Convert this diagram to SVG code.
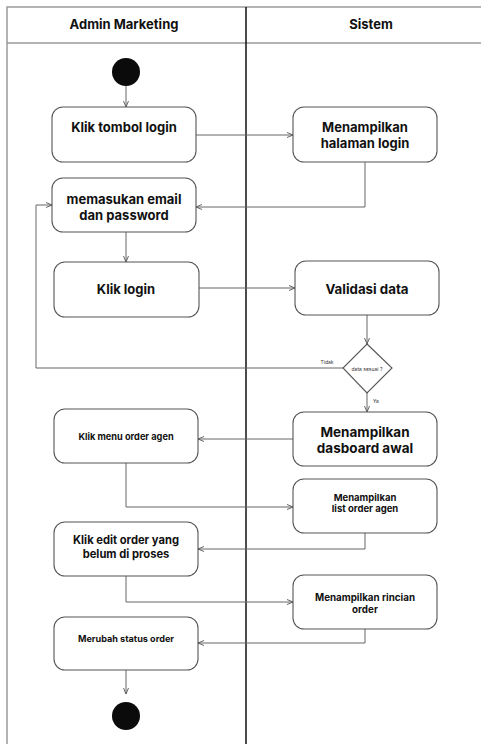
<svg xmlns="http://www.w3.org/2000/svg" width="481" height="744" viewBox="0 0 481 744">
  <defs>
    <marker id="arrow" viewBox="0 0 6 6" refX="6" refY="3" markerWidth="6" markerHeight="6" orient="auto" markerUnits="userSpaceOnUse">
      <path d="M0,0.5 L6,3 L0,5.5" fill="none" stroke="#555" stroke-width="0.9"/>
    </marker>
    <style>
      .frame { fill: none; stroke: #9a9a9a; stroke-width: 1.5; }
      .divider { stroke: #111; stroke-width: 1.5; }
      .box { fill: #fff; stroke: #555; stroke-width: 1.1; }
      .node-dot { fill: #0b0b0b; }
      .edge { fill: none; stroke: #666; stroke-width: 1; marker-end: url(#arrow); }
      text { font-family: Inter, "Liberation Sans", Arial, sans-serif; fill: #111; text-anchor: middle; dominant-baseline: central; }
      .head { font-size: 13px; font-weight: 700; }
      .lbl { font-weight: 700; }
      .tiny { font-size: 5px; fill: #333; }
    </style>
  </defs>

  <!-- swimlane frame -->
  <g id="lanes">
    <path class="frame" d="M7,744 V7 H481 M7,43 H481"/>
    <line class="divider" x1="246" y1="7" x2="246" y2="744"/>
    <text class="head" x="124" y="24">Admin Marketing</text>
    <text class="head" x="371" y="24">Sistem</text>
  </g>

  <!-- connectors -->
  <g id="connectors">
    <path class="edge" d="M126,86 V107"/>
    <path class="edge" d="M196,135 H293"/>
    <path class="edge" d="M365,162 V207 H196"/>
    <path class="edge" d="M126,232 V262"/>
    <path class="edge" d="M199,288 H295"/>
    <path class="edge" d="M367,315 V344"/>
    <path class="edge" d="M343,368 H36 V205 H52"/>
    <path class="edge" d="M367,393 V412"/>
    <path class="edge" d="M293,439 H198"/>
    <path class="edge" d="M126,463 V507 H293"/>
    <path class="edge" d="M365,533 V549 H198"/>
    <path class="edge" d="M126,576 V602 H293"/>
    <path class="edge" d="M365,629 V643 H198"/>
    <path class="edge" d="M126,670 V694"/>
    <text class="tiny" x="327" y="362">Tidak</text>
    <text class="tiny" x="376" y="401">Ya</text>
  </g>

  <!-- nodes -->
  <g id="start">
    <circle class="node-dot" cx="126" cy="72" r="14"/>
  </g>

  <g id="klik-tombol-login">
    <rect class="box" x="52" y="107" width="144" height="55" rx="11"/>
    <text class="lbl" x="124" y="127" font-size="13">Klik tombol login</text>
  </g>

  <g id="menampilkan-halaman-login">
    <rect class="box" x="293" y="107" width="144" height="55" rx="11"/>
    <text class="lbl" x="365" y="127" font-size="13">Menampilkan</text>
    <text class="lbl" x="365" y="143" font-size="13">halaman login</text>
  </g>

  <g id="memasukan-email">
    <rect class="box" x="52" y="178" width="144" height="54" rx="11"/>
    <text class="lbl" x="124" y="199" font-size="13">memasukan email</text>
    <text class="lbl" x="124" y="215" font-size="13">dan password</text>
  </g>

  <g id="klik-login">
    <rect class="box" x="54" y="262" width="145" height="55" rx="11"/>
    <text class="lbl" x="126" y="289" font-size="13">Klik login</text>
  </g>

  <g id="validasi-data">
    <rect class="box" x="295" y="261" width="144" height="54" rx="11"/>
    <text class="lbl" x="367" y="289" font-size="13.3">Validasi data</text>
  </g>

  <g id="data-sesuai">
    <path class="box" d="M367,344 L392,368 L367,393 L343,368 Z"/>
    <text class="tiny" x="367" y="369">data sesuai ?</text>
  </g>

  <g id="menampilkan-dasboard">
    <rect class="box" x="293" y="412" width="144" height="54" rx="11"/>
    <text class="lbl" x="365" y="431.5" font-size="13.5">Menampilkan</text>
    <text class="lbl" x="365" y="447.5" font-size="13.5">dasboard awal</text>
  </g>

  <g id="klik-menu-order">
    <rect class="box" x="54" y="409" width="144" height="54" rx="11"/>
    <text class="lbl" x="126" y="436" font-size="9.2">Klik menu order agen</text>
  </g>

  <g id="menampilkan-list">
    <rect class="box" x="293" y="479" width="144" height="54" rx="11"/>
    <text class="lbl" x="365" y="497" font-size="9.5">Menampilkan</text>
    <text class="lbl" x="365" y="508" font-size="9.5">list order agen</text>
  </g>

  <g id="klik-edit-order">
    <rect class="box" x="54" y="522" width="144" height="54" rx="11"/>
    <text class="lbl" x="126" y="540" font-size="11.2">Klik edit order yang</text>
    <text class="lbl" x="126" y="554" font-size="11.2">belum di proses</text>
  </g>

  <g id="menampilkan-rincian">
    <rect class="box" x="293" y="575" width="144" height="54" rx="11"/>
    <text class="lbl" x="365" y="597" font-size="9.8">Menampilkan rincian</text>
    <text class="lbl" x="365" y="609" font-size="9.8">order</text>
  </g>

  <g id="merubah-status">
    <rect class="box" x="54" y="617" width="144" height="53" rx="11"/>
    <text class="lbl" x="126" y="638" font-size="9.1">Merubah status order</text>
  </g>

  <g id="end">
    <circle class="node-dot" cx="126" cy="716" r="14"/>
  </g>
</svg>
